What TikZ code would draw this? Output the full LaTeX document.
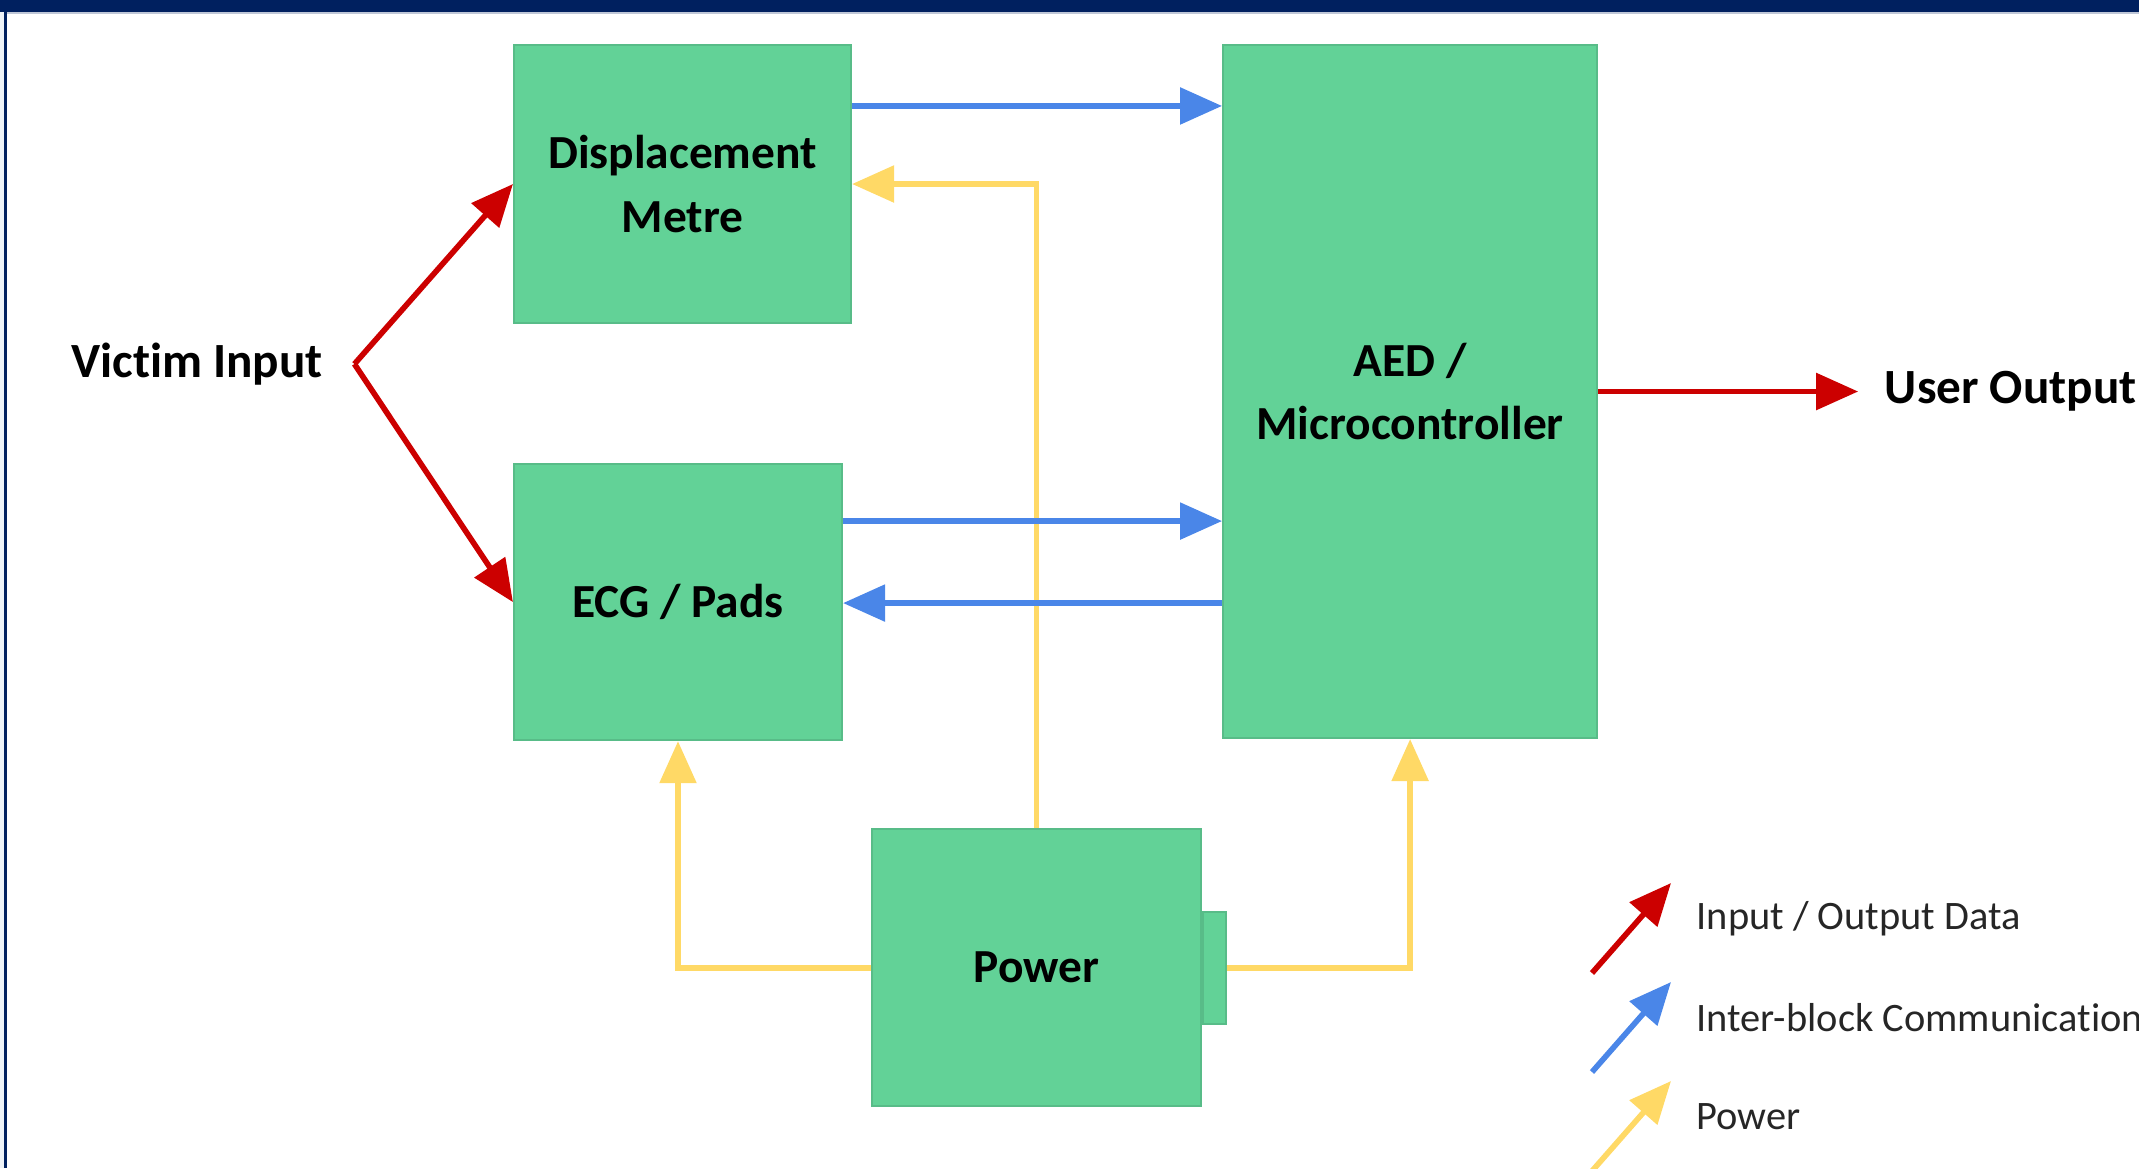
\documentclass[tikz,border=0pt]{standalone}
\usepackage{fontspec}
\setmainfont{Carlito}[Ligatures={NoCommon,NoContextual}]
\usetikzlibrary{arrows.meta,positioning}
\definecolor{aedgreen}{HTML}{62D297}
\definecolor{aededge}{HTML}{58BC88}
\definecolor{aedred}{HTML}{CC0000}
\definecolor{aedblue}{HTML}{4A86E8}
\definecolor{aedyellow}{HTML}{FFD966}
\definecolor{aednavy}{HTML}{00205F}
\definecolor{aedstrip}{HTML}{EEF3F8}

\begin{document}
\begin{tikzpicture}[
  block/.style={draw=aededge, fill=aedgreen, line width=0.6pt, inner sep=0pt,
                align=center, font=\fontsize{13.5}{18}\selectfont\bfseries},
  outside/.style={inner sep=0pt, font=\fontsize{14}{17}\selectfont\bfseries},
  legend/.style={inner sep=0pt, text=black!85, font=\fontsize{11.5}{14}\selectfont},
  io/.style={draw=aedred, line width=1.6pt, -{Triangle[length=0.42cm,width=0.36cm]}},
  comm/.style={draw=aedblue, line width=1.6pt, -{Triangle[length=0.42cm,width=0.36cm]}},
  pwr/.style={draw=aedyellow, line width=1.6pt, -{Triangle[length=0.42cm,width=0.36cm]}}
]
\useasboundingbox (0,0) rectangle (21.39,-11.68);
\clip (0,0) rectangle (21.39,-11.68);

% Frame
\fill[aednavy] (0,0) rectangle (21.39,-0.12);
\fill[aednavy!25] (0,-0.12) rectangle (21.39,-0.14);
\fill[aedstrip] (0,-0.12) rectangle (0.04,-11.68);
\fill[aednavy] (0.04,-0.12) rectangle (0.065,-11.68);

% Blocks
\node[block, minimum width=3.37cm, minimum height=2.78cm] (disp) at (6.825,-1.84) {Displacement\\Metre};
\node[block, minimum width=3.28cm, minimum height=2.76cm,
      below right=1.39cm and 0cm of disp.south west] (ecg) {ECG / Pads};
\node[block, minimum width=3.74cm, minimum height=6.93cm,
      below right=0cm and 3.7cm of disp.north east] (aed) {AED /\\Microcontroller};
\node[block, minimum width=3.29cm, minimum height=2.77cm,
      below right=0.87cm and 0.28cm of ecg.south east] (power) {Power};
\node[block, minimum width=0.23cm, minimum height=1.12cm, right=0cm of power] (plug) {};

% Outside texts
\node[outside] (victim) at (1.97,-3.64) {Vict{}im Input};
\coordinate[right=0.31cm of victim] (split);
\node[outside, right=2.86cm of aed.east] (user) {User Output};

% Power lines
\draw[pwr] (power.north) |- (disp.east);
\draw[pwr] (power.west) -| (ecg.south);
\draw[pwr] (plug.east) -| (aed.south);

% Inter-block lines
\coordinate (disp-out) at ([yshift=-0.62cm]disp.north east);
\coordinate (ecg-out) at ([yshift=-0.58cm]ecg.north east);
\coordinate (ecg-in) at ([yshift=-1.40cm]ecg.north east);
\draw[comm] (disp-out) -- (disp-out -| aed.west);
\draw[comm] (ecg-out) -- (ecg-out -| aed.west);
\draw[comm] (ecg-in -| aed.west) -- (ecg-in);

% Input / output lines
\draw[io] (split) -- (disp.west);
\draw[io] (split) -- (ecg.west);
\draw[io, shorten >=0.26cm] (aed.east) -- (user.west);

% Legend
\node[legend, anchor=west] (lgio) at (16.96,-9.19) {Input / Output Data};
\node[legend, below=0.99cm of lgio.west, anchor=west] (lgcomm) {Inter-block Communication};
\node[legend, below=0.99cm of lgcomm.west, anchor=west] (lgpwr) {Power};
\draw[io] ([shift={(-1.04,-0.54)}]lgio.west) -- ++(0.79,0.9);
\draw[comm] ([shift={(-1.04,-0.54)}]lgcomm.west) -- ++(0.79,0.9);
\draw[pwr] ([shift={(-1.04,-0.54)}]lgpwr.west) -- ++(0.79,0.9);
\end{tikzpicture}
\end{document}
